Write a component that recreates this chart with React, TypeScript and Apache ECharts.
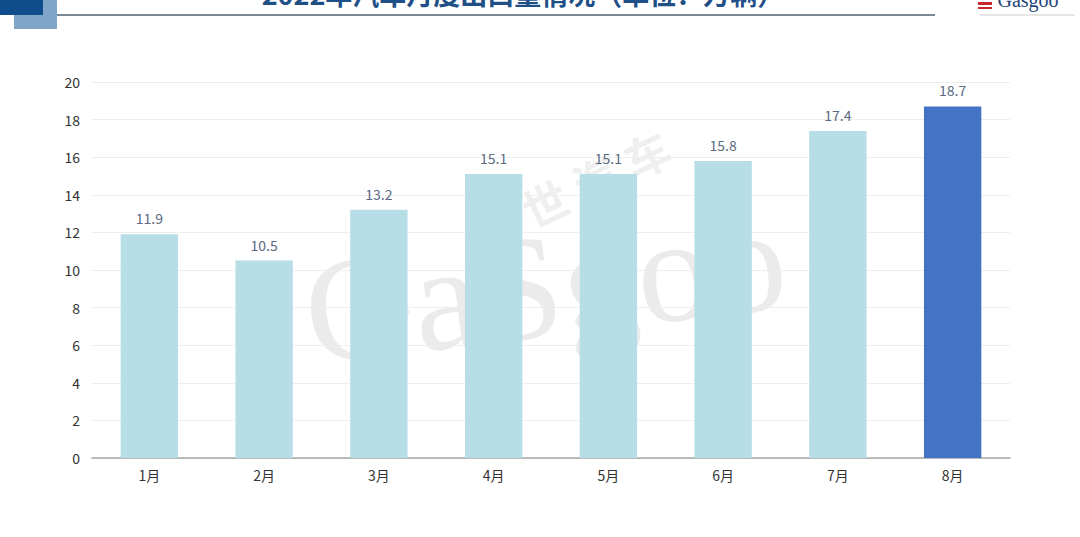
import React, { useEffect, useRef } from "react";
import * as echarts from "echarts";

const categories = ["1月", "2月", "3月", "4月", "5月", "6月", "7月", "8月"];
const values = [11.9, 10.5, 13.2, 15.1, 15.1, 15.8, 17.4, 18.7];
const highlightIndex = 7;
const title = "2022年汽车月度出口量情况（单位：万辆）";

export default function App() {
  const ref = useRef<HTMLDivElement>(null);
  useEffect(() => {
    if (!ref.current) return;
    const chart = echarts.init(ref.current, null, { renderer: "svg" });
    const font = "'Noto Sans CJK SC', 'Noto Sans', sans-serif";
    chart.setOption({
      animation: false,
      backgroundColor: "#ffffff",
      grid: { left: 92, right: 70, top: 82, bottom: 79 },
      graphic: [
        { type: "rect", shape: { x: 14, y: 0, width: 43, height: 29 }, style: { fill: "#7fa5c9" }, z: 10 },
        { type: "rect", shape: { x: 0, y: 0, width: 43, height: 15 }, style: { fill: "#0f4c8c" }, z: 11 },
        { type: "line", shape: { x1: 57, y1: 15, x2: 935, y2: 15 }, style: { stroke: "#4d6272", lineWidth: 1.5 }, z: 10 },
        { type: "line", shape: { x1: 980, y1: 15, x2: 1075, y2: 15 }, style: { stroke: "#c0c0c0", lineWidth: 0.8 }, z: 10 },
        {
          type: "text", x: 523, y: 7, z: 12,
          style: { text: title, font: `bold 27px ${font}`, fill: "#1e4f86", textAlign: "center", textVerticalAlign: "bottom" },
        },
        {
          type: "text", x: 1028, y: 10, z: 12,
          style: { text: "Gasgoo", font: "20px 'Liberation Serif', serif", fill: "#23457a", textAlign: "center", textVerticalAlign: "bottom" },
        },
        { type: "rect", shape: { x: 978, y: 2, width: 14, height: 3 }, style: { fill: "#c8272e" }, z: 12 },
        { type: "rect", shape: { x: 978, y: 7, width: 14, height: 2 }, style: { fill: "#c8272e" }, z: 12 },
        {
          type: "text", x: 545, y: 285, rotation: 0.12, z: -1,
          style: { text: "GaSgoo", font: "150px 'Liberation Serif', serif", fill: "rgba(0,0,0,0.08)", textAlign: "center", textVerticalAlign: "middle" },
        },
        {
          type: "text", x: 570, y: 190, rotation: 0.45, z: -1,
          style: { text: "盖 世 汽 车", font: `bold 46px ${font}`, fill: "rgba(0,0,0,0.08)", textAlign: "center", textVerticalAlign: "middle" },
        },
      ],
      xAxis: {
        type: "category",
        data: categories,
        axisLine: { lineStyle: { color: "#a6a6a6", width: 1.5 } },
        axisTick: { show: false },
        axisLabel: { color: "#333333", fontSize: 14, fontFamily: font, margin: 10 },
      },
      yAxis: {
        type: "value",
        min: 0,
        max: 20,
        interval: 2,
        axisLine: { show: false },
        axisTick: { show: false },
        axisLabel: { color: "#333333", fontSize: 14, fontFamily: font, margin: 12 },
        splitLine: { lineStyle: { color: "#eeeeee", width: 1 } },
      },
      series: [
        {
          type: "bar",
          z: 5,
          barWidth: "50%",
          data: values.map((v, i) => ({
            value: v,
            itemStyle: { color: i === highlightIndex ? "#4472c4" : "#b7dde6" },
          })),
          label: {
            show: true,
            position: "top",
            distance: 9,
            color: "#5a6a82",
            fontSize: 14,
            fontFamily: font,
          },
        },
      ],
    });
    return () => chart.dispose();
  }, []);
  return <div ref={ref} style={{ width: 1080, height: 537, position: "absolute", left: 0, top: 0 }} />;
}
